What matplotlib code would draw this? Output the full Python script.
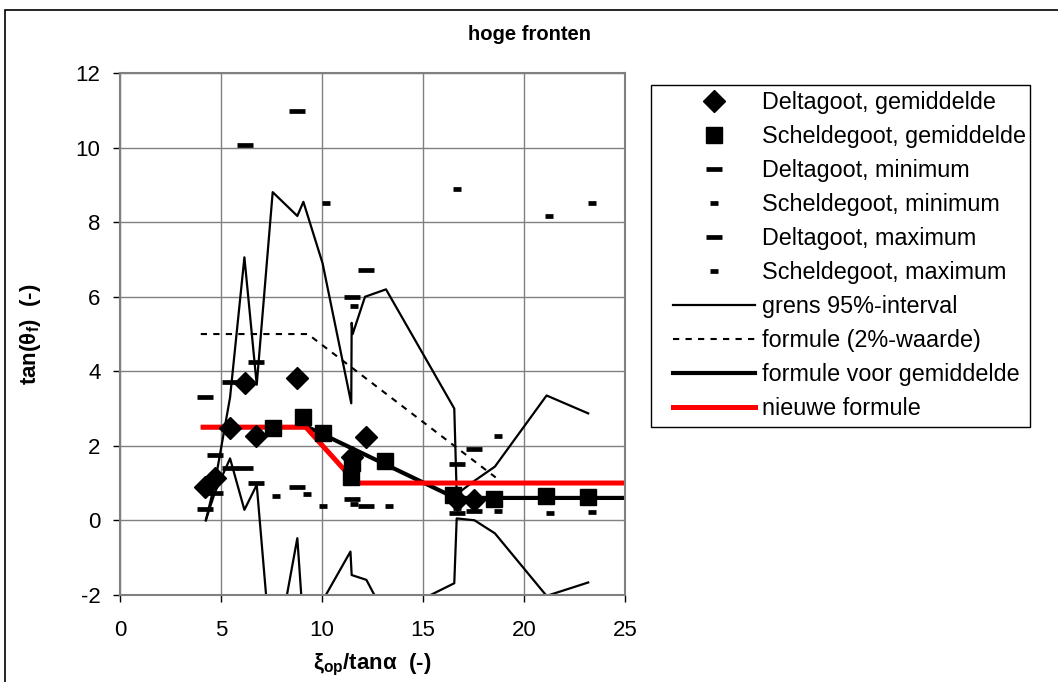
import matplotlib
matplotlib.use('Agg')
from matplotlib import pyplot as plt
from matplotlib.lines import Line2D

plt.rcParams['font.family'] = ['Liberation Sans', 'DejaVu Sans']
plt.rcParams['mathtext.fontset'] = 'custom'
plt.rcParams['mathtext.rm'] = 'Liberation Sans'
plt.rcParams['mathtext.it'] = 'Liberation Sans:italic'
plt.rcParams['mathtext.bf'] = 'Liberation Sans:bold'
plt.rcParams['axes.unicode_minus'] = False

## data

# Deltagoot
delta_x = [4.2, 4.7, 5.45, 6.19, 6.73, 8.78, 11.5, 12.18, 16.67, 17.52]
delta_gem = [0.89, 1.13, 2.49, 3.68, 2.26, 3.83, 1.7, 2.24, 0.55, 0.55]
delta_min = [0.31, 0.74, 1.40, 1.40, 0.99, 0.89, 0.56, 0.38, 0.20, 0.26]
delta_max = [3.32, 1.75, 3.72, 10.07, 4.26, 10.99, 5.99, 6.72, 1.50, 1.91]

# Scheldegoot
schelde_x = [7.56, 9.08, 10.03, 11.45, 11.47, 13.12, 16.5, 18.53, 21.09, 23.18]
schelde_gem = [2.47, 2.78, 2.33, 1.15, 1.54, 1.59, 0.68, 0.56, 0.65, 0.62]
schelde_min_x = [7.72, 9.24, 10.06, 11.6, 13.32, 16.67, 18.7, 21.29, 23.35]
schelde_min = [0.66, 0.71, 0.37, 0.44, 0.38, 0.32, 0.25, 0.19, 0.23]
schelde_max_x = [10.2, 11.58, 16.67, 18.7, 21.25, 23.35]
schelde_max = [8.51, 5.76, 8.89, 2.26, 8.18, 8.51]

# grens 95%-interval (bovengrens en ondergrens)
grens_hoog_x = [4.25, 4.7, 5.45, 6.16, 6.77, 7.56, 8.78, 9.08, 10.03, 11.45, 11.47,
                11.52, 12.13, 13.17, 16.55, 16.67, 17.55, 18.56, 21.12, 23.18]
grens_hoog = [0.0, 1.0, 3.3, 7.06, 3.64, 8.81, 8.17, 8.55, 6.90, 3.14, 5.3,
              5.0, 6.0, 6.2, 3.0, 0.7, 1.06, 1.44, 3.35, 2.87]
grens_laag_x = [4.25, 4.7, 5.45, 6.16, 6.77, 7.56, 8.78, 9.08, 10.03, 11.41, 11.47,
                12.2, 13.17, 16.55, 16.67, 17.55, 18.56, 21.12, 23.18]
grens_laag = [0.0, 0.75, 1.66, 0.28, 0.95, -4.1, -0.48, -2.84, -2.16, -0.84, -1.47,
              -1.6, -2.6, -1.69, 0.05, 0.0, -0.35, -2.03, -1.67]

# formules
f2_x = [4.0, 9.3, 18.6]
f2_y = [5.0, 5.0, 1.15]
fgem_x = [4.0, 9.3, 16.6, 25.0]
fgem_y = [2.5, 2.5, 0.6, 0.6]
nieuw_x = [4.0, 9.2, 11.7, 25.0]
nieuw_y = [2.5, 2.5, 1.0, 1.0]

## figure

fig = plt.figure(figsize=(10.58, 6.82), dpi=100)
ax = fig.add_axes([0.1134, 0.1279, 0.4773, 0.7646])

ax.plot(grens_hoog_x, grens_hoog, color='k', lw=1.6)
ax.plot(grens_laag_x, grens_laag, color='k', lw=1.6)
ax.plot(f2_x, f2_y, color='k', lw=1.5, ls=(0, (3, 3)))
ax.plot(fgem_x, fgem_y, color='k', lw=3, solid_capstyle='butt')
ax.plot(nieuw_x, nieuw_y, color='#ff0000', lw=3.6, solid_capstyle='butt')

ax.plot(delta_x, delta_min, ls='none', marker='_', ms=11, mew=3.4, color='k')
ax.plot(delta_x, delta_max, ls='none', marker='_', ms=11, mew=3.4, color='k')
ax.plot(schelde_min_x, schelde_min, ls='none', marker='_', ms=6, mew=3.4, color='k')
ax.plot(schelde_max_x, schelde_max, ls='none', marker='_', ms=6, mew=3.4, color='k')
ax.plot(delta_x, delta_gem, ls='none', marker='D', ms=11, color='k')
ax.plot(schelde_x, schelde_gem, ls='none', marker='s', ms=12, color='k')

ax.set_xlim(0, 25)
ax.set_ylim(-2, 12)
ax.set_xticks(range(0, 26, 5))
ax.set_yticks(range(-2, 13, 2))
ax.grid(True, color='#808080', lw=1)
ax.set_axisbelow(True)
for s in ax.spines.values():
    s.set_color('#808080')
    s.set_linewidth(1.5)
ax.tick_params(direction='out', length=5, width=1, color='k', labelsize=16)
ax.tick_params(axis='x', pad=13)
ax.tick_params(axis='y', pad=9)

ax.set_xlabel(r'$\mathbf{\xi_{op}}$/tan$\mathbf{\alpha}$  (-)', fontsize=16, fontweight='bold')
ax.set_ylabel(r'tan($\mathbf{\theta_f}$)  (-)', fontsize=16, fontweight='bold')
ax.xaxis.label.set_va('center')
ax.yaxis.label.set_va('center')
ax.xaxis.set_label_coords(0.5, -0.135)
ax.yaxis.set_label_coords(-0.178, 0.5)
fig.text(0.5, 0.95, 'hoge fronten', ha='center', va='center', fontsize=14.5, fontweight='bold')

handles = [
    Line2D([], [], ls='none', marker='D', ms=11, color='k'),
    Line2D([], [], ls='none', marker='s', ms=12, color='k'),
    Line2D([], [], ls='none', marker='_', ms=11, mew=3.4, color='k'),
    Line2D([], [], ls='none', marker='_', ms=6, mew=3.4, color='k'),
    Line2D([], [], ls='none', marker='_', ms=11, mew=3.4, color='k'),
    Line2D([], [], ls='none', marker='_', ms=6, mew=3.4, color='k'),
    Line2D([], [], color='k', lw=1.6),
    Line2D([], [], color='k', lw=1.5, ls=(0, (3, 3))),
    Line2D([], [], color='k', lw=3),
    Line2D([], [], color='#ff0000', lw=3.6),
]
labels = ['Deltagoot, gemiddelde', 'Scheldegoot, gemiddelde', 'Deltagoot, minimum',
          'Scheldegoot, minimum', 'Deltagoot, maximum', 'Scheldegoot, maximum',
          'grens 95%-interval', 'formule (2%-waarde)', 'formule voor gemiddelde',
          'nieuwe formule']
fig.legend(handles, labels, loc='upper left', bbox_to_anchor=(673 / 1058, 1 - 91 / 682),
           borderaxespad=0, borderpad=0, fontsize=16.8, frameon=False,
           handlelength=3.5, handletextpad=0.3, labelspacing=0.47)

# legendakader
fig.add_artist(plt.Rectangle((651 / 1058, 1 - 427 / 682), 379 / 1058, 342 / 682,
                             transform=fig.transFigure, fill=False, ec='k', lw=1))

# rand om de hele grafiek
fig.add_artist(plt.Rectangle((5 / 1058, -0.05), 1.1, 1.05 - 10 / 682,
                             transform=fig.transFigure, fill=False, ec='k', lw=1.2))

fig.savefig('out.png', dpi=100)
